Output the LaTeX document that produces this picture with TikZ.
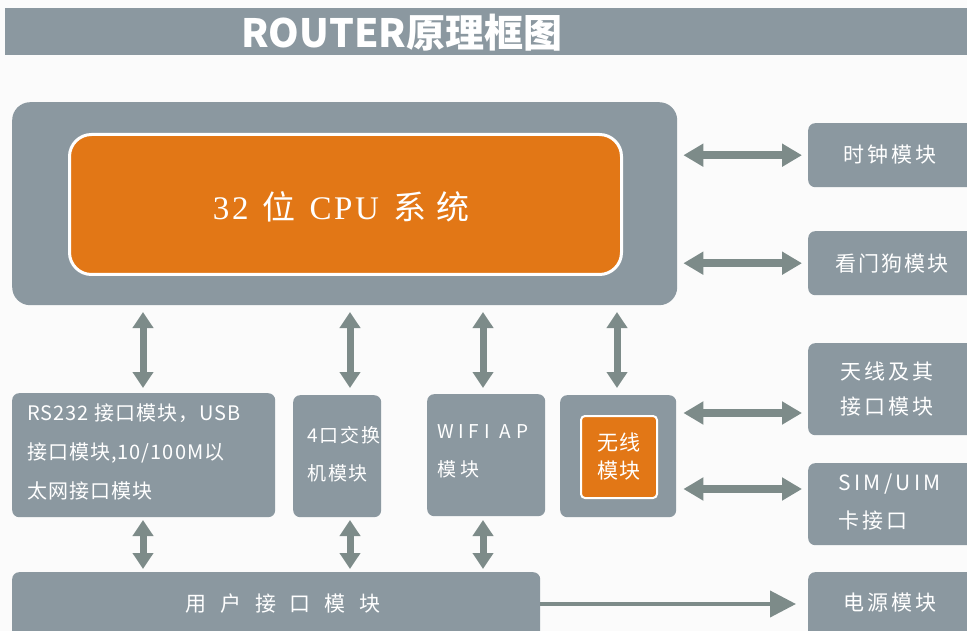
\documentclass[tikz,border=0pt]{standalone}
\usepackage{fontspec}
\setmainfont{Noto Sans CJK SC}
\newfontfamily\cjk{Noto Sans CJK SC}
\newfontfamily\cpufont{Liberation Serif}
\usetikzlibrary{arrows.meta}
\definecolor{boxgray}{RGB}{139,152,160}
\definecolor{arrgray}{RGB}{125,139,137}
\definecolor{cpuorange}{RGB}{226,119,22}
\definecolor{bg}{RGB}{251,251,251}
\tikzset{
  box/.style={fill=boxgray, rounded corners=7pt, inner sep=0pt, anchor=north west, text=white},
  txt/.style={text=white, inner sep=0pt, font=\cjk\fontsize{20}{39}\selectfont\addfontfeature{LetterSpace=5}},
  dbl/.style={draw=arrgray, line width=8pt, {Triangle[width=22pt,length=20pt]}-{Triangle[width=22pt,length=20pt]}},
  vdbl/.style={draw=arrgray, line width=7pt, {Triangle[width=20pt,length=16pt]}-{Triangle[width=20pt,length=16pt]}},
  single/.style={draw=arrgray, line width=4pt, -{Triangle[width=26pt,length=26pt]}}
}
\begin{document}
\begin{tikzpicture}[x=1pt,y=-1pt]
\useasboundingbox (0,0) rectangle (967,631);
\fill[bg] (0,0) rectangle (967,631);
% title bar
\fill[boxgray] (5,8) rectangle (975,55);
\node[text=white, font=\cjk\bfseries\fontsize{39}{42}\selectfont, anchor=west, inner sep=0pt] (title) at (241,33) {ROUTER原理框图};
% CPU
\node[box, rounded corners=18pt, minimum width=665pt, minimum height=203pt] (cpu) at (12,102) {};
\node[box, fill=cpuorange, draw=white, line width=3pt, rounded corners=22pt, minimum width=552pt, minimum height=140pt] (cpuin) at (68,133) {};
\node[text=white, font=\fontsize{33}{36}\selectfont, inner sep=0pt] (cputxt) at (341,207) {{\cpufont\addfontfeature{LetterSpace=8}32}\hspace{14pt}位\hspace{14pt}{\cpufont\addfontfeature{LetterSpace=8}CPU}\hspace{14pt}系\hspace{10pt}统};
% right column
\node[box, minimum width=170pt, minimum height=64pt] (clock) at (808,123) {};
\node[txt, font=\cjk\fontsize{21}{24}\selectfont\addfontfeature{LetterSpace=14}] at (890,155) {时钟模块};
\node[box, minimum width=170pt, minimum height=64pt] (wdog) at (808,231) {};
\node[txt, font=\cjk\fontsize{21}{24}\selectfont\addfontfeature{LetterSpace=10}] at (892,264) {看门狗模块};
\node[box, minimum width=170pt, minimum height=92pt] (ant) at (808,343) {};
\node[txt, align=left, anchor=north west, font=\cjk\fontsize{21}{35}\selectfont\addfontfeature{LetterSpace=14}] at (840,362) {天线及其\\接口模块};
\node[box, minimum width=170pt, minimum height=82pt] (sim) at (808,463) {};
\node[txt, align=left, anchor=north west, font=\cjk\fontsize{21}{38}\selectfont\addfontfeature{LetterSpace=16}] at (838,474) {SIM/UIM\\卡接口};
\node[box, minimum width=170pt, minimum height=70pt] (power) at (808,572) {};
\node[txt, font=\cjk\fontsize{21}{24}\selectfont\addfontfeature{LetterSpace=14}] at (890,603) {电源模块};
% bottom row
\node[box, minimum width=263pt, minimum height=124pt] (rs) at (12,393) {};
\node[txt, align=left, anchor=north west] at (27,403) {RS232 接口模块，USB\\接口模块,10/100M以\\太网接口模块};
\node[box, minimum width=88pt, minimum height=122pt] (sw) at (293,395) {};
\node[txt, align=left, anchor=north west, font=\cjk\fontsize{19}{38}\selectfont\addfontfeature{LetterSpace=10}] at (307,426) {4口交换\\机模块};
\node[box, minimum width=118pt, minimum height=122pt] (wifi) at (427,394) {};
\node[txt, align=left, anchor=north west, font=\cjk\fontsize{19}{38}\selectfont\addfontfeature{LetterSpace=25}] at (437,424) {WIFI\hspace{10pt}AP\\模块};
\node[box, minimum width=116pt, minimum height=122pt] (wl) at (560,395) {};
\node[box, fill=cpuorange, draw=white, line width=2pt, rounded corners=4pt, minimum width=76pt, minimum height=82pt] (wlin) at (580,415) {};
\node[txt, align=center, font=\cjk\fontsize{21}{28}\selectfont\addfontfeature{LetterSpace=8}] at (wlin.center) {无线\\模块};
% user interface
\node[box, minimum width=528pt, minimum height=70pt] (user) at (12,572) {};
\node[txt, font=\cjk\fontsize{21}{24}\selectfont\addfontfeature{LetterSpace=65}] at (283,604) {用户接口模块};
% horizontal arrows
\draw[dbl] ([xshift=6pt]cpu.east |- clock.west) -- ([xshift=-6pt]clock.west);
\draw[dbl] ([xshift=6pt]cpu.east |- wdog.west) -- ([xshift=-6pt]wdog.west);
\draw[dbl] ([xshift=7pt]wl.east |- 0,413) coordinate (a1) -- ([xshift=-6pt]ant.west |- a1);
\draw[dbl] ([xshift=7pt]wl.east |- 0,489) coordinate (a2) -- ([xshift=-6pt]sim.west |- a2);
\draw[single] (user.east |- 0,604) coordinate (a3) -- ([xshift=-12pt]power.west |- a3);
% vertical arrows
\foreach \n/\x in {rs/143, sw/350, wifi/483, wl/617}{
  \draw[vdbl] (\x,312) coordinate (t\n) -- (\x,388);
}
\foreach \n/\x in {rs/143, sw/350, wifi/483}{
  \draw[vdbl] (\x,520) coordinate (b\n) -- (\x,569);
}
\end{tikzpicture}
\end{document}
